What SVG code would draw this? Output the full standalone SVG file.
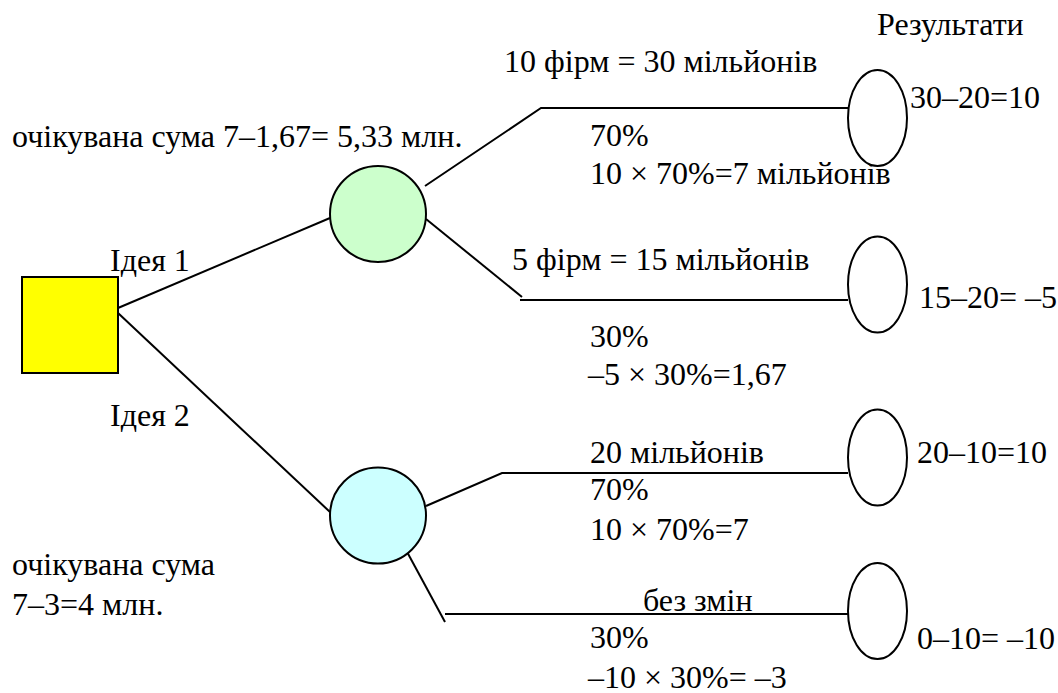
<svg xmlns="http://www.w3.org/2000/svg" width="1058" height="693" viewBox="0 0 1058 693">
  <style>
    text { font-family: "Times New Roman", Times, "Liberation Serif", Tinos, "Noto Serif", "DejaVu Serif", serif; font-size: 32px; fill: #000; }
    .edge { stroke: #000; stroke-width: 2; fill: none; }
    .node { stroke: #000; stroke-width: 2; }
    .outcome { fill: #fff; stroke: #000; stroke-width: 2; }
  </style>
  <rect width="1058" height="693" fill="#fff"/>

  <!-- connectors -->
  <g id="connectors">
    <line class="edge" x1="118" y1="308" x2="330" y2="218"/>
    <line class="edge" x1="118" y1="313" x2="330" y2="512"/>
    <polyline class="edge" points="425,186 541,108 848,108"/>
    <line class="edge" x1="426" y1="219" x2="522" y2="297"/>
    <line class="edge" x1="520" y1="300" x2="848" y2="300"/>
    <polyline class="edge" points="426,506 502,473 848,473"/>
    <line class="edge" x1="406" y1="550" x2="445" y2="622"/>
    <line class="edge" x1="445" y1="614" x2="848" y2="614"/>
  </g>

  <!-- decision square -->
  <g id="decision">
    <rect class="node" x="22" y="277" width="96" height="96" fill="#ffff00"/>
  </g>
  <g id="label-idea1"><text x="110" y="271">Ідея 1</text></g>
  <g id="label-idea2"><text x="110" y="426">Ідея 2</text></g>

  <!-- chance node, idea 1 -->
  <g id="chance-1">
    <circle class="node" cx="378" cy="214" r="48" fill="#ccffcc"/>
  </g>
  <g id="expected-1"><text x="12" y="147">очікувана сума 7–1,67= 5,33 млн.</text></g>

  <!-- chance node, idea 2 -->
  <g id="chance-2">
    <circle class="node" cx="378" cy="515.5" r="48" fill="#ccffff"/>
  </g>
  <g id="expected-2">
    <text x="12" y="575">очікувана сума</text>
    <text x="12" y="615">7–3=4 млн.</text>
  </g>

  <!-- branch labels -->
  <g id="branch-1">
    <text x="504" y="72">10 фірм = 30 мільйонів</text>
    <text x="590" y="146">70%</text>
    <text x="590" y="184">10 × 70%=7 мільйонів</text>
  </g>
  <g id="branch-2">
    <text x="512" y="270">5 фірм = 15 мільйонів</text>
    <text x="590" y="347">30%</text>
    <text x="588" y="385">–5 × 30%=1,67</text>
  </g>
  <g id="branch-3">
    <text x="590" y="463">20 мільйонів</text>
    <text x="590" y="500">70%</text>
    <text x="590" y="540">10 × 70%=7</text>
  </g>
  <g id="branch-4">
    <text x="643" y="611">без змін</text>
    <text x="590" y="648">30%</text>
    <text x="588" y="688">–10 × 30%= –3</text>
  </g>

  <!-- outcomes -->
  <g id="results-title"><text x="877" y="35">Результати</text></g>
  <g id="outcome-1">
    <ellipse class="outcome" cx="877.5" cy="118" rx="29.5" ry="48"/>
    <text x="910" y="108">30–20=10</text>
  </g>
  <g id="outcome-2">
    <ellipse class="outcome" cx="877.5" cy="284.5" rx="29.5" ry="48"/>
    <text x="919" y="308">15–20= –5</text>
  </g>
  <g id="outcome-3">
    <ellipse class="outcome" cx="877.5" cy="457.5" rx="29.5" ry="48"/>
    <text x="917" y="463">20–10=10</text>
  </g>
  <g id="outcome-4">
    <ellipse class="outcome" cx="877.5" cy="611" rx="29.5" ry="48"/>
    <text x="917" y="649">0–10= –10</text>
  </g>
</svg>
